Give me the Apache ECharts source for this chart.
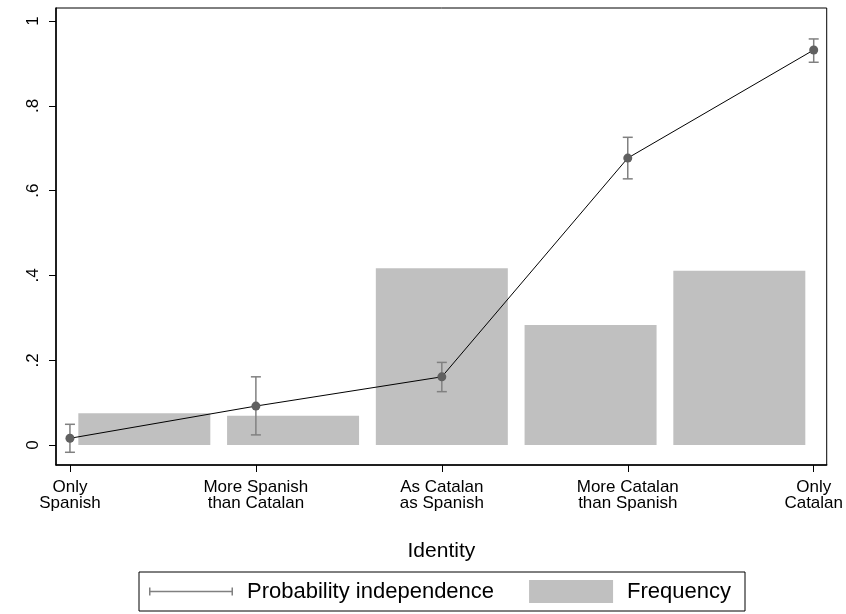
<!DOCTYPE html>
<html><head><meta charset="utf-8">
<script src="https://cdn.jsdelivr.net/npm/echarts@6/dist/echarts.min.js"></script>
<style>html,body{margin:0;padding:0;background:#fff}#c{width:846px;height:614px}</style>
</head><body><div id="c"></div>
<script>
const categories = ['Only\nSpanish', 'More Spanish\nthan Catalan', 'As Catalan\nas Spanish', 'More Catalan\nthan Spanish', 'Only\nCatalan'];
const identityX = [1, 2, 3, 4, 5];
const probability = [0.016, 0.092, 0.161, 0.677, 0.932];
const ciLower = [-0.017, 0.024, 0.126, 0.628, 0.903];
const ciUpper = [0.049, 0.161, 0.195, 0.726, 0.958];
const frequency = [0.075, 0.069, 0.417, 0.283, 0.411];
const yTicks = [0, 0.2, 0.4, 0.6, 0.8, 1];
const yTickLabels = ['0', '.2', '.4', '.6', '.8', '1'];

const FONT = "'Liberation Sans', Arial, sans-serif";
const xMin = 0.925, xMax = 5.07;
// bars sit on their own scale: bar k is at 0.6 + 0.8k on the identity scale
const barOffset = 0.6, barStep = 0.8;

const chart = echarts.init(document.getElementById('c'), null, {renderer: 'canvas'});
chart.setOption({
  animation: false,
  backgroundColor: '#fff',
  textStyle: {fontFamily: FONT},
  grid: {left: 56, right: 17, top: 8, bottom: 149, show: true, borderColor: '#000', borderWidth: 1, containLabel: false},
  xAxis: [{
    type: 'value', min: xMin, max: xMax, position: 'bottom',
    name: 'Identity', nameLocation: 'middle', nameGap: 76,
    nameTextStyle: {fontSize: 21, color: '#000', fontFamily: FONT},
    axisLine: {show: true, onZero: false, lineStyle: {color: '#000', width: 1.5}},
    axisTick: {show: true, customValues: identityX, length: 7, lineStyle: {color: '#000', width: 1}},
    axisLabel: {show: true, customValues: identityX, margin: 14, fontSize: 17, lineHeight: 16, color: '#000', fontFamily: FONT,
      formatter: v => categories[identityX.indexOf(Math.round(v))] || ''},
    splitLine: {show: false}
  }, {
    type: 'value', min: (xMin - barOffset) / barStep, max: (xMax - barOffset) / barStep, show: false,
    axisLine: {show: false, onZero: false}, axisTick: {show: false}, axisLabel: {show: false},
    splitLine: {show: false}
  }],
  yAxis: {
    type: 'value', min: -0.047, max: 1.031,
    axisLine: {show: true, onZero: false, lineStyle: {color: '#000', width: 1.5}},
    axisTick: {show: true, customValues: yTicks, length: 7, lineStyle: {color: '#000', width: 1}},
    axisLabel: {show: true, customValues: yTicks, rotate: 90, margin: 14, fontSize: 17, color: '#000', fontFamily: FONT,
      formatter: v => yTickLabels[yTicks.findIndex(t => Math.abs(t - v) < 1e-6)] || ''},
    splitLine: {show: false}
  },
  legend: {
    left: 139, top: 572, orient: 'horizontal',
    padding: [8, 14, 8, 10],
    borderColor: '#000', borderWidth: 1,
    itemWidth: 84, itemHeight: 23, itemGap: 35,
    selectedMode: false,
    textStyle: {fontSize: 22, color: '#000', fontFamily: FONT, padding: [0, 0, 0, 9]},
    data: [
      {name: 'Probability independence',
       icon: 'path://M0,0L1.5,0L1.5,3.25L82.5,3.25L82.5,0L84,0L84,8L82.5,8L82.5,4.75L1.5,4.75L1.5,8L0,8Z',
       itemStyle: {color: '#808080', borderWidth: 0}},
      {name: 'Frequency', icon: 'rect', itemStyle: {color: '#c0c0c0', borderWidth: 0}}
    ]
  },
  series: [
    {
      name: 'Frequency', type: 'bar', xAxisIndex: 1, yAxisIndex: 0,
      data: frequency.map((v, i) => [identityX[i], v]),
      barWidth: 132,
      itemStyle: {color: '#c0c0c0'},
      z: 1
    },
    {
      name: 'Probability independence', type: 'custom', xAxisIndex: 0, yAxisIndex: 0,
      data: identityX.map((x, i) => [x, ciLower[i], ciUpper[i]]),
      encode: {x: 0, y: [1, 2]},
      renderItem: function (params, api) {
        const x = api.value(0);
        const lo = api.coord([x, api.value(1)]);
        const hi = api.coord([x, api.value(2)]);
        const hw = 5;
        const style = {stroke: '#808080', lineWidth: 1.5};
        return {type: 'group', children: [
          {type: 'line', shape: {x1: lo[0], y1: lo[1], x2: hi[0], y2: hi[1]}, style: style},
          {type: 'line', shape: {x1: lo[0] - hw, y1: lo[1], x2: lo[0] + hw, y2: lo[1]}, style: style},
          {type: 'line', shape: {x1: hi[0] - hw, y1: hi[1], x2: hi[0] + hw, y2: hi[1]}, style: style}
        ]};
      },
      z: 2
    },
    {
      name: 'Probability independence', type: 'line', xAxisIndex: 0, yAxisIndex: 0,
      data: identityX.map((x, i) => [x, probability[i]]),
      lineStyle: {color: '#000', width: 1},
      symbol: 'circle', symbolSize: 9,
      itemStyle: {color: '#606060', borderWidth: 0},
      z: 3
    }
  ]
});
</script>
</body></html>
